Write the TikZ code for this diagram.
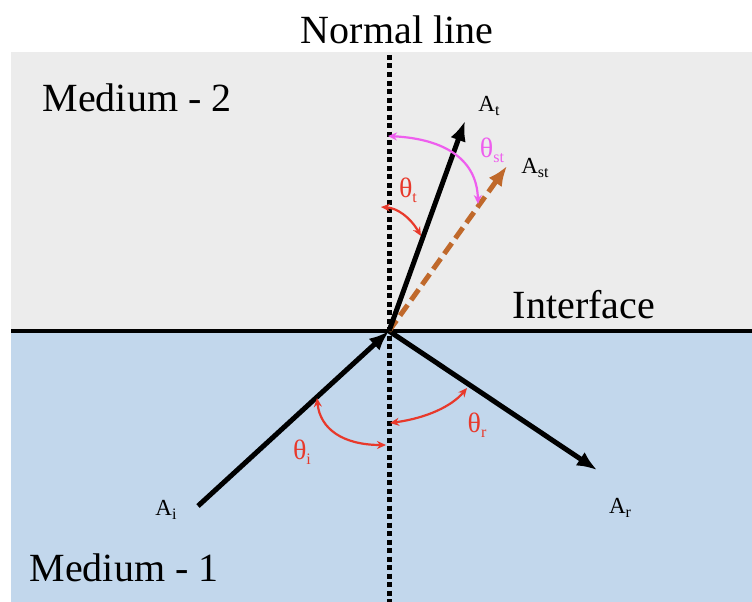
\documentclass[tikz,border=0pt]{standalone}
\usepackage{fontspec}
\setmainfont{Liberation Serif}
\usetikzlibrary{arrows.meta}
\definecolor{mediumtwo}{HTML}{ECECEC}
\definecolor{mediumone}{HTML}{C2D7EC}
\definecolor{anglered}{HTML}{E8392B}
\definecolor{anglepink}{HTML}{EE5EEE}
\definecolor{stbrown}{HTML}{C0692B}
\newcommand{\lowsub}[1]{\raisebox{-0.4ex}{\fontsize{16}{16}\selectfont #1}}

\begin{document}
\begin{tikzpicture}[x=1pt,y=-1pt,
  big/.style={font=\fontsize{40}{40}\selectfont},
  amp/.style={font=\fontsize{23}{23}\selectfont},
  ang/.style={font=\fontsize{28}{28}\selectfont},
  wave/.style={line width=5pt,-{Latex[length=20pt,width=16pt]}},
  angarc/.style={line width=2.2pt,{Stealth[length=9pt,width=8pt]}-{Stealth[length=9pt,width=8pt]}}]
  \useasboundingbox (0,0) rectangle (752,602);
  % the two media
  \fill[mediumtwo] (11,52) rectangle (752,331);
  \fill[mediumone] (11,331) rectangle (752,602);
  \coordinate (O) at (389,331);
  \coordinate (Ai) at (198,506);
  \coordinate (Ar) at (597,470);
  \coordinate (At) at (465,121);
  \coordinate (Ast) at (507,166);
  \draw[line width=5pt,dash pattern=on 5pt off 3.5pt] (389,55) -- (389,602);
  \draw[line width=4pt] (11,331) -- (752,331);
  % waves
  \draw[wave] (Ai) -- (O);
  \draw[wave] (O) -- (Ar);
  \draw[wave,stbrown,dash pattern=on 13pt off 6pt] (O) -- (Ast);
  \draw[wave] (O) -- (At);
  % angles
  \draw[angarc,anglered] (317,398) .. controls (320,429) and (343,445) .. (386,445);
  \draw[angarc,anglered] (390,423) .. controls (427,418) and (452,406) .. (467,388);
  \draw[angarc,anglered] (381,207) .. controls (397,208) and (410,217) .. (421,236);
  \draw[angarc,anglepink] (388,136) .. controls (447,139) and (477,161) .. (478,204);
  % labels
  \node[big] (nl) at (397,30) {Normal line};
  \node[big] (m2) at (137,98) {Medium - 2};
  \node[big] (m1) at (124,568) {Medium - 1};
  \node[big] (itf) at (584,305) {Interface};
  \node[amp] (lAt) at (489,106) {A\lowsub{t}};
  \node[amp] (lAst) at (535,168) {A\lowsub{st}};
  \node[amp] (lAi) at (166,510) {A\lowsub{i}};
  \node[amp] (lAr) at (620,508) {A\lowsub{r}};
  \node[ang,anglered] (tt) at (408,190) {θ\lowsub{t}};
  \node[ang,anglepink] (tst) at (492,150) {θ\lowsub{st}};
  \node[ang,anglered] (ti) at (302,452) {θ\lowsub{i}};
  \node[ang,anglered] (tr) at (477,425) {θ\lowsub{r}};
\end{tikzpicture}
\end{document}
